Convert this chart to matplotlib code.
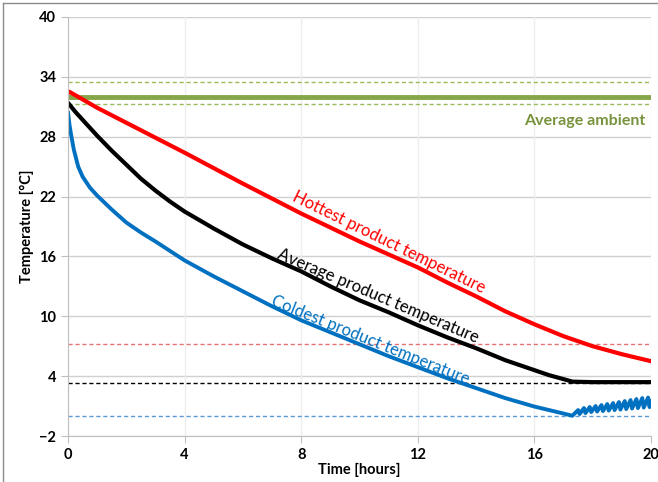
import matplotlib.pyplot as plt
from matplotlib.lines import Line2D

plt.rcParams['font.family'] = ['Lato', 'DejaVu Sans']

hot_t = [0, 0.05, 1, 2, 4, 6, 8, 10, 12, 13, 14, 15, 16, 17, 18, 19, 20]
hot_y = [32.4, 32.5, 30.9, 29.4, 26.4, 23.3, 20.3, 17.5, 14.9, 13.4, 12.0, 10.5, 9.2, 8.0, 7.0, 6.2, 5.5]

avg_t = [0, 0.25, 0.5, 0.75, 1, 1.5, 2, 2.5, 3, 3.5, 4, 5, 6, 7, 8, 9, 10, 11, 12, 13, 14, 15, 16, 16.5,
         17, 17.3, 18, 19, 20]
avg_y = [31.4, 30.5, 29.7, 28.9, 28.1, 26.6, 25.2, 23.8, 22.6, 21.5, 20.5, 18.8, 17.2, 15.8, 14.5, 13.0,
         11.6, 10.4, 9.1, 7.9, 6.8, 5.6, 4.6, 4.1, 3.7, 3.45, 3.4, 3.4, 3.4]

cold_t = [0, 0.05, 0.1, 0.2, 0.35, 0.5, 0.75, 1.0, 1.5, 2, 2.5, 3, 4, 5, 6, 7, 8, 9, 10, 11, 12, 13, 14,
          15, 16, 17,
          17.3, 17.5, 17.55, 17.7, 17.75, 17.9, 17.95, 18.1, 18.15, 18.3, 18.35, 18.5, 18.55, 18.7, 18.75,
          18.9, 18.95, 19.1, 19.15, 19.3, 19.35, 19.5, 19.55, 19.7, 19.75, 19.9, 19.95, 20.0]
cold_y = [30.4, 29.2, 28.3, 26.7, 25.0, 24.0, 22.9, 22.1, 20.7, 19.4, 18.4, 17.5, 15.6, 14.0, 12.5, 11.0,
          9.6, 8.4, 7.2, 6.0, 4.9, 3.8, 2.8, 1.8, 0.95, 0.25,
          0.03, 0.6, 0.2, 0.8, 0.3, 0.9, 0.4, 1.0, 0.45, 1.1, 0.5, 1.2, 0.55, 1.3, 0.6,
          1.4, 0.65, 1.5, 0.7, 1.6, 0.75, 1.7, 0.8, 1.8, 0.85, 1.85, 0.9, 1.5]

amb_t = [0, 20]
amb_y = [32.0, 32.0]

amb_band = [33.5, 31.3]
hot_limit = 7.2
avg_limit = 3.3
cold_limit = 0.0

x_ticks = [0, 4, 8, 12, 16, 20]
y_ticks = [-2, 4, 10, 16, 22, 28, 34, 40]

green = '#77933C'
red = '#FF0000'
blue = '#0070C0'

fig = plt.figure(figsize=(6.58, 4.82), dpi=100)
ax = fig.add_axes([68 / 658, 1 - 436 / 482, 583 / 658, 419 / 482])

for y in y_ticks:
    ax.axhline(y, color='#d0d0d0', lw=1, zorder=0)
for x in x_ticks:
    ax.axvline(x, color='#eeeeee', lw=1, zorder=0)

for y in amb_band:
    ax.plot([0, 20], [y, y], color='#9BBB59', lw=1, ls=(0, (3, 2)))
ax.plot([0, 20], [hot_limit] * 2, color='#E57373', lw=1, ls=(0, (3, 2)))
ax.plot([0, 20], [avg_limit] * 2, color='black', lw=1, ls=(0, (3, 2)))
ax.plot([0, 20], [cold_limit] * 2, color='#5B9BD5', lw=1, ls=(0, (3, 2)))

style = dict(lw=3, solid_joinstyle='round', solid_capstyle='round')
ax.plot(amb_t, amb_y, color='#86A64A', lw=3.5)
ax.plot(hot_t, hot_y, color=red, **style)
ax.plot(avg_t, avg_y, color='black', **style)
ax.plot(cold_t, cold_y, color=blue, lw=2.8, solid_joinstyle='round')

ax.text(19.8, 29.6, 'Average ambient', color=green, fontsize=11.5, fontweight='bold',
        ha='right', va='center')
ax.text(11.0, 17.4, 'Hottest product temperature', color=red, fontsize=12,
        rotation=-26, ha='center', va='center', rotation_mode='anchor')
ax.text(10.63, 12.0, 'Average product temperature', color='black', fontsize=12,
        rotation=-23, ha='center', va='center', rotation_mode='anchor')
ax.text(10.36, 7.6, 'Coldest product temperature', color=blue, fontsize=12,
        rotation=-22, ha='center', va='center', rotation_mode='anchor')

ax.set_xlim(0, 20)
ax.set_ylim(-2, 40)
ax.set_xticks(x_ticks)
ax.set_yticks(y_ticks)
ax.tick_params(colors='#bfbfbf', labelcolor='black', length=5, labelsize=10.5)
for lab in ax.get_xticklabels() + ax.get_yticklabels():
    lab.set_fontweight('bold')
for s in ['top', 'right']:
    ax.spines[s].set_visible(False)
for s in ['left', 'bottom']:
    ax.spines[s].set_color('#bfbfbf')

ax.set_xlabel('Time [hours]', fontweight='bold', fontsize=10.5, labelpad=1)
ax.set_ylabel('Temperature [°C]', fontweight='bold', fontsize=10.5, labelpad=4)

# chart-area frame, cut off at the right and bottom as in the reference
for xs, ys in [([3 / 658, 3 / 658], [0, 1 - 3 / 482]), ([3 / 658, 1], [1 - 3 / 482, 1 - 3 / 482])]:
    fig.add_artist(Line2D(xs, ys, transform=fig.transFigure, color='#8c8c8c', lw=1))

fig.savefig('out.png', dpi=100)
